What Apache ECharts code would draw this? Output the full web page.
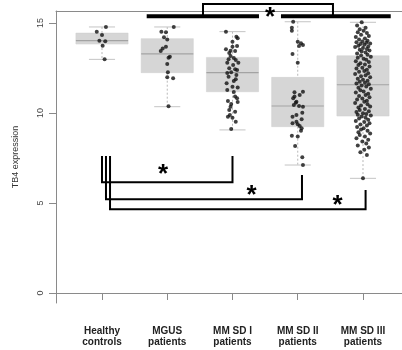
<!DOCTYPE html>
<html>
<head>
<meta charset="utf-8">
<script src="https://cdn.jsdelivr.net/npm/echarts@6/dist/echarts.min.js"></script>
<style>
  html, body { margin: 0; padding: 0; background: #fff; }
  #chart { width: 402px; height: 350px; }
</style>
</head>
<body>
<div id="chart"></div>
<script>
const groups = ['Healthy\ncontrols', 'MGUS\npatients', 'MM SD I\npatients', 'MM SD II\npatients', 'MM SD III\npatients'];
const yTicks = [0, 5, 10, 15];

// [low whisker, Q1, median, Q3, high whisker]
const boxStats = [
  [12.98, 13.83, 14.02, 14.44, 14.78],
  [10.35, 12.24, 13.28, 14.13, 14.78],
  [9.06, 11.18, 12.24, 13.09, 14.52],
  [7.11, 9.24, 10.39, 11.98, 15.07],
  [6.37, 9.83, 11.57, 13.18, 15.04]
];

// jittered points: expression value and horizontal jitter (in group units)
const hcVals = [14.78, 14.52, 14.33, 14.02, 13.98, 13.74, 12.98];
const hcJit = [0.06, -0.08, 0, -0.04, 0.05, 0.01, 0.04];

const mgusVals = [14.78, 14.52, 14.48, 14.21, 14.09, 13.68, 13.59, 13.44, 13.13, 13.07, 12.72, 12.26, 11.98, 11.93, 10.37];
const mgusJit = [0.1, -0.09, -0.02, -0.05, 0, -0.02, -0.07, -0.1, 0.04, 0.02, 0, 0.01, 0, 0.09, 0.02];

const sd1Vals = [14.52, 14.24, 14.15, 13.96, 13.72, 13.68, 13.54, 13.46, 13.44, 13.33, 13.17, 13.06, 12.98, 12.94, 12.79,
  12.67, 12.79, 12.48, 12.43, 12.39, 12.26, 12.22, 12.11, 12.02, 11.87, 11.78, 11.65, 11.46, 11.41, 11.28,
  11.17, 10.91, 10.82, 10.67, 10.61, 10.5, 10.35, 10.17, 10.07, 9.89, 9.79, 9.74, 9.52, 9.11];
const sd1Jit = [-0.1, 0.06, 0.08, 0, 0.07, 0, -0.1, -0.03, 0.04, -0.05, -0.03, 0.02, -0.06, 0.05, -0.08,
  0.01, 0.09, -0.05, 0.04, 0.07, -0.02, -0.08, 0.06, -0.06, 0.05, 0.02, -0.09, 0, 0.08, -0.08,
  0.02, 0.04, 0.07, -0.07, 0.08, -0.02, -0.03, -0.05, 0.04, -0.04, -0.07, 0, 0.05, -0.02];

const sd2Vals = [15.07, 14.74, 14.57, 13.96, 13.87, 13.78, 13.72, 13.28, 12.79, 11.18, 11.15, 11.0, 10.91, 10.82, 10.63,
  10.57, 10.44, 10.39, 10.35, 10.02, 9.89, 9.79, 9.65, 9.52, 9.43, 9.37, 9.28, 9.15, 9.02, 8.74, 8.69, 8.17, 7.54, 7.11];
const sd2Jit = [-0.07, -0.09, -0.09, 0, 0.05, 0.08, 0.02, -0.08, 0, 0.08, -0.05, 0.03, -0.05, -0.07, -0.02,
  -0.03, -0.06, 0.02, 0.08, 0.07, -0.02, -0.08, 0.06, -0.02, -0.08, 0, 0.03, 0.06, 0.05, -0.09, 0, -0.04, 0.07, 0.08];

const sd3Vals = [15.04, 14.86, 14.74, 14.66, 14.57, 14.49, 14.44, 14.35, 14.28, 14.22, 14.14, 14.09, 14.02, 13.97, 13.93, 13.9,
  13.86, 13.83, 13.79, 13.74, 13.7, 13.66, 13.61, 13.55, 13.52, 13.47, 13.41, 13.36, 13.3, 13.24, 13.19,
  13.13, 13.07, 13.01, 12.96, 12.88, 12.83, 12.76, 12.7, 12.66, 12.58, 12.52, 12.47, 12.4, 12.33, 12.29, 12.21,
  12.16, 12.1, 12.04, 11.98, 11.9, 11.85, 11.79, 11.74, 11.68, 11.64, 11.6,
  11.53, 11.47, 11.4, 11.35, 11.27, 11.2, 11.14, 11.07, 11.0, 10.94, 10.88, 10.8, 10.75, 10.68, 10.62, 10.55,
  10.49, 10.41, 10.36, 10.3, 10.22, 10.16, 10.1, 10.05, 9.99, 9.94, 9.9, 9.86,
  9.8, 9.74, 9.69, 9.62, 9.55, 9.5, 9.43, 9.36, 9.3, 9.22, 9.15, 9.08, 9.01, 8.93, 8.86, 8.78, 8.69, 8.6,
  8.52, 8.41, 8.3, 8.19, 8.08, 7.96, 7.82, 7.67, 6.37];
const sd3Jit = [-0.02, -0.09, 0.04, -0.05, 0.01, -0.08, 0.06, -0.03, 0.09, -0.11,
  0.03, -0.06, 0.07, -0.01, -0.1, 0.05, 0.11, -0.04, 0.02, -0.07,
  0.08, -0.12, 0.0, 0.06, -0.05, 0.1, -0.02, 0.04, -0.09, 0.07,
  -0.03, 0.12, -0.08, 0.01, 0.05, -0.11, 0.09, -0.04, 0.03, -0.07,
  0.1, -0.01, -0.1, 0.06, 0.02, -0.06, 0.08, -0.12, 0.04, -0.03,
  0.11, -0.08, 0.0, 0.07, -0.05, 0.03, -0.1, 0.09, -0.02, 0.05,
  -0.07, 0.12, -0.04, 0.01, -0.11, 0.08, 0.04, -0.06, 0.1, -0.01,
  -0.09, 0.06, 0.02, -0.12, 0.07, -0.03, 0.11, -0.07, 0.03, -0.05,
  0.09, -0.1, 0.0, 0.05, -0.08, 0.12, -0.02, 0.04, -0.06, 0.08,
  -0.11, 0.02, 0.1, -0.04, 0.06, -0.09, 0.01, -0.03, 0.07, -0.07,
  0.11, -0.05, 0.03, -0.1, 0.08, -0.01, 0.05, -0.08, 0.09, 0.02,
  -0.04, 0.06, 0.0];

// significance brackets, in data coordinates [x, y]
const thickBars = [
  [[1.685, 15.37], [3.406, 15.37]],
  [[3.743, 15.37], [5.425, 15.37]]
];
const brackets = [
  [[2.548, 15.4], [2.548, 16.06], [4.54, 16.06], [4.54, 15.4]],
  [[1.0, 7.61], [1.0, 6.15], [3.0, 6.15], [3.0, 7.61]],
  [[1.061, 7.61], [1.061, 5.21], [4.065, 5.21], [4.065, 6.56]],
  [[1.123, 7.61], [1.123, 4.65], [5.04, 4.65], [5.04, 5.72]]
];
const stars = [[3.575, 15.68], [1.935, 6.95], [3.294, 5.8], [4.612, 5.25]];

const pointData = [];
[[hcVals, hcJit], [mgusVals, mgusJit], [sd1Vals, sd1Jit], [sd2Vals, sd2Jit], [sd3Vals, sd3Jit]].forEach(([vals, jit], g) => {
  vals.forEach((v, i) => pointData.push([g + 1 + jit[i], v]));
});

const renderBox = (params, api) => {
  const x = api.value(0);
  const lo = api.coord([x, api.value(1)]);
  const q1 = api.coord([x, api.value(2)]);
  const med = api.coord([x, api.value(3)]);
  const q3 = api.coord([x, api.value(4)]);
  const hi = api.coord([x, api.value(5)]);
  const w = api.size([0.8, 0])[0];
  const cw = api.size([0.4, 0])[0];
  const cx = lo[0];
  const whisker = { stroke: '#b8b8b8', lineWidth: 1, lineDash: [2, 2] };
  const cap = { stroke: '#c4c4c4', lineWidth: 1 };
  return {
    type: 'group',
    children: [
      { type: 'line', shape: { x1: cx, y1: hi[1], x2: cx, y2: q3[1] }, style: whisker },
      { type: 'line', shape: { x1: cx, y1: q1[1], x2: cx, y2: lo[1] }, style: whisker },
      { type: 'line', shape: { x1: cx - cw / 2, y1: hi[1], x2: cx + cw / 2, y2: hi[1] }, style: cap },
      { type: 'line', shape: { x1: cx - cw / 2, y1: lo[1], x2: cx + cw / 2, y2: lo[1] }, style: cap },
      { type: 'rect', shape: { x: cx - w / 2, y: q3[1], width: w, height: q1[1] - q3[1] }, style: { fill: '#d6d6d6', stroke: '#cfcfcf', lineWidth: 0.5 } },
      { type: 'line', shape: { x1: cx - w / 2, y1: med[1], x2: cx + w / 2, y2: med[1] }, style: { stroke: '#a3a3a3', lineWidth: 1.2 } }
    ]
  };
};

const renderPath = (list, width) => (params, api) => ({
  type: 'polyline',
  shape: { points: list[params.dataIndex].map((p) => api.coord(p)) },
  style: { stroke: '#000', lineWidth: width, fill: null }
});

const chart = echarts.init(document.getElementById('chart'));
chart.setOption({
  animation: false,
  backgroundColor: '#fff',
  textStyle: { fontFamily: 'Liberation Sans, Arial, sans-serif' },
  grid: { left: 56, right: 0, top: 11, bottom: 47 },
  xAxis: [
    {
      type: 'value',
      min: 0.295,
      max: 5.598,
      splitLine: { show: false },
      axisLine: { lineStyle: { color: '#8a8a8a', width: 1 } },
      axisTick: { show: true, length: 7, customValues: [1, 2, 3, 4, 5], lineStyle: { color: '#8a8a8a' } },
      axisLabel: {
        customValues: [1, 2, 3, 4, 5],
        formatter: (v) => groups[Math.round(v) - 1],
        margin: 23,
        fontSize: 10,
        fontWeight: 'bold',
        lineHeight: 11,
        color: '#222'
      }
    },
    {
      type: 'value',
      position: 'top',
      min: 0.295,
      max: 5.598,
      splitLine: { show: false },
      axisLine: { lineStyle: { color: '#8a8a8a', width: 1 } },
      axisTick: { show: false },
      axisLabel: { show: false }
    }
  ],
  yAxis: {
    type: 'value',
    min: -0.556,
    max: 15.667,
    name: 'TB4 expression',
    nameLocation: 'middle',
    nameGap: 36,
    nameTextStyle: { fontSize: 9, color: '#333' },
    splitLine: { show: false },
    axisLine: { show: true, lineStyle: { color: '#8a8a8a', width: 1 } },
    axisTick: { show: true, length: 7, customValues: yTicks, lineStyle: { color: '#8a8a8a' } },
    axisLabel: { customValues: yTicks, rotate: 90, margin: 11, fontSize: 9, color: '#444' }
  },
  series: [
    {
      type: 'custom',
      data: boxStats.map((s, i) => [i + 1, ...s]),
      renderItem: renderBox,
      z: 1
    },
    {
      type: 'scatter',
      data: pointData,
      symbolSize: 4,
      itemStyle: { color: '#111' },
      z: 3
    },
    {
      type: 'custom',
      data: thickBars.map((b, i) => [i]),
      renderItem: renderPath(thickBars, 4),
      clip: false,
      z: 4
    },
    {
      type: 'custom',
      data: brackets.map((b, i) => [i]),
      renderItem: renderPath(brackets, 2),
      clip: false,
      z: 4
    },
    {
      type: 'custom',
      data: stars,
      clip: false,
      z: 5,
      renderItem: (params, api) => {
        const p = api.coord([api.value(0), api.value(1)]);
        return {
          type: 'text',
          x: p[0],
          y: p[1] - 6,
          style: {
            text: '*',
            fontSize: 26,
            fontWeight: 'bold',
            fontFamily: 'Liberation Sans',
            fill: '#000',
            align: 'center',
            verticalAlign: 'top'
          }
        };
      }
    }
  ]
});
</script>
</body>
</html>
